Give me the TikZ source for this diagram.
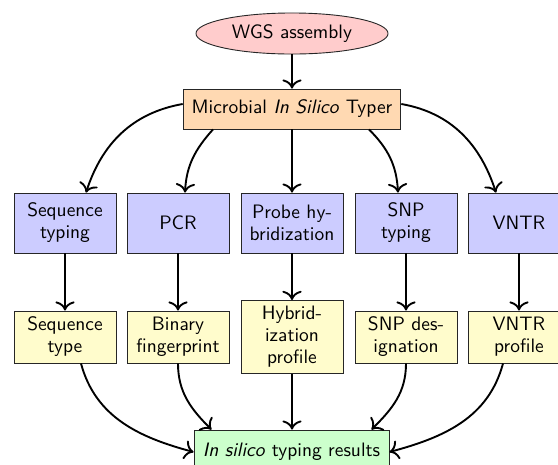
\documentclass[tikz,border=0pt]{standalone}
\usetikzlibrary{shapes.geometric,calc,arrows.meta}
\begin{document}
\begin{tikzpicture}[x=0.5556pt,y=0.5556pt,
  basenode/.style={draw=black!85, line width=0.5pt, font=\sffamily\fontsize{10.8pt}{12.2pt}\selectfont, align=center},
  srcnode/.style={basenode, ellipse, fill=red!20, minimum width=106.7pt, minimum height=22.8pt, inner sep=0pt},
  toolnode/.style={basenode, rectangle, fill=orange!30, minimum width=121pt, minimum height=22.2pt, inner sep=0pt},
  methodbox/.style={basenode, rectangle, fill=blue!20, text width=50pt, minimum height=33.3pt, inner sep=3.33pt},
  outbox/.style={basenode, rectangle, fill=yellow!20, text width=50pt, minimum height=28.9pt, inner sep=3.33pt},
  resbox/.style={basenode, rectangle, fill=green!20, minimum width=108.3pt, minimum height=24.4pt, inner sep=0pt},
  flow/.style={-{To[scale=1.3]}, line width=1.05pt}
]
\useasboundingbox (0,0) rectangle (558,-464);

% input and tool
\node[srcnode]  (wgs)   at (292,-33.5) {WGS assembly};
\node[toolnode] (typer) at (292,-109) {Microbial \textit{In Silico} Typer};

% typing methods
\node[methodbox] (seq)   at (65,-223)  {Sequence\\typing};
\node[methodbox] (pcr)   at (178,-223) {PCR};
\node[methodbox] (probe) at (292,-223) {Probe hy-\\bridization};
\node[methodbox] (snp)   at (406,-223) {SNP\\typing};
\node[methodbox] (vntr)  at (519,-223) {VNTR};

% method outputs
\node[outbox] (seqtype) at (65,-337)  {Sequence\\type};
\node[outbox] (binary)  at (178,-337) {Binary\\fingerprint};
\node[outbox] (hybrid)  at (292,-337) {Hybrid-\\ization\\profile};
\node[outbox] (snpdes)  at (406,-337) {SNP des-\\ignation};
\node[outbox] (vntrp)   at (519,-337) {VNTR\\profile};

% combined result
\node[resbox] (result) at (291.5,-452) {\textit{In silico} typing results};

% tool to methods
\draw[flow] (wgs) -- (typer);
\draw[flow] ($(typer.west)+(0,5)$) to[out=190,in=72] ($(seq.north)+(21,0)$);
\draw[flow] ($(typer.south)+(-79,0)$) to[out=228,in=87] ($(pcr.north)+(7,0)$);
\draw[flow] (typer) -- (probe);
\draw[flow] ($(typer.south)+(77,0)$) to[out=-45,in=93] ($(snp.north)+(-8,0)$);
\draw[flow] ($(typer.east)+(0,5)$) to[out=-10,in=108] ($(vntr.north)+(-23,0)$);

% methods to outputs
\draw[flow] (seq) -- (seqtype);
\draw[flow] (pcr) -- (binary);
\draw[flow] (probe) -- (hybrid);
\draw[flow] (snp) -- (snpdes);
\draw[flow] (vntr) -- (vntrp);

% outputs to result
\draw[flow] ($(seqtype.south)+(16,0)$) to[out=-75,in=165] (result.west);
\draw[flow] (binary.south) to[out=-90,in=135] ($(result.north)+(-80,0)$);
\draw[flow] (hybrid.south) -- (hybrid.south |- result.north);
\draw[flow] (snpdes.south) to[out=-90,in=45] ($(result.north)+(80,0)$);
\draw[flow] ($(vntrp.south)+(-16,0)$) to[out=-105,in=15] (result.east);
\end{tikzpicture}
\end{document}
